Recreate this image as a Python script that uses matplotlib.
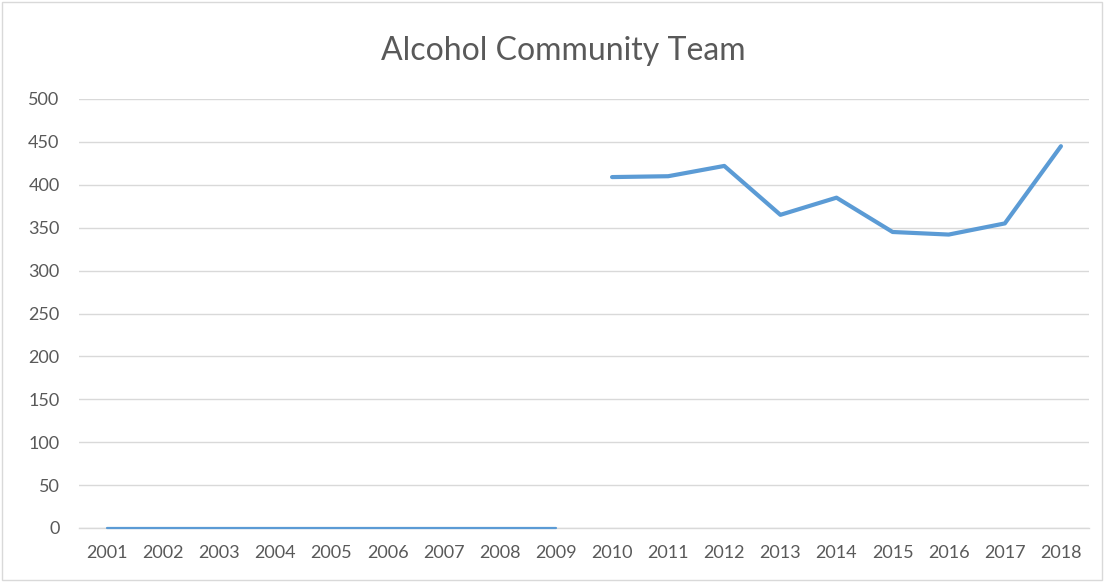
import matplotlib
matplotlib.use('Agg')
import matplotlib.pyplot as plt
import numpy as np

years = list(range(2001, 2019))
early_years = list(range(2001, 2010))
early_vals = [0, 0, 0, 0, 0, 0, 0, 0, 0]
late_years = list(range(2010, 2019))
late_vals = [409, 410, 422, 365, 385, 345, 342, 355, 445]
yticks = [0, 50, 100, 150, 200, 250, 300, 350, 400, 450, 500]

C_LINE = '#5b9bd5'
C_GRID = '#d9d9d9'
C_TEXT = '#595959'

plt.rcParams['font.family'] = ['Lato', 'DejaVu Sans']

fig = plt.figure(figsize=(11.04, 5.82), dpi=100)
ax = fig.add_axes([79/1104, 54/582, 1010/1104, 429/582])

pos = {y: i for i, y in enumerate(years)}
ax.plot([pos[y] for y in early_years], early_vals, color=C_LINE, linewidth=1.6,
        solid_capstyle='round', zorder=3, clip_on=False)
ax.plot([pos[y] for y in late_years], late_vals, color=C_LINE, linewidth=3.0,
        solid_capstyle='round', solid_joinstyle='round', zorder=3)

ax.set_xlim(-0.5, len(years) - 0.5)
ax.set_ylim(0, 500)
ax.set_yticks(yticks)
ax.set_xticks(range(len(years)))
ax.set_xticklabels([str(y) for y in years])

ax.grid(axis='y', color=C_GRID, linewidth=1.0, zorder=0)
for s in ['top', 'right', 'left']:
    ax.spines[s].set_visible(False)
ax.spines['bottom'].set_color(C_GRID)
ax.spines['bottom'].set_linewidth(1.0)
ax.tick_params(axis='both', length=0, colors=C_TEXT, labelsize=13)
ax.tick_params(axis='x', pad=12)
ax.tick_params(axis='y', pad=14)

fig.text(563/1104, 1 - 51/582, 'Alcohol Community Team', ha='center', va='center',
         fontsize=23, color=C_TEXT)

# light frame round the chart
fig.patches.append(plt.Rectangle((0.002, 0.003), 0.996, 0.994, transform=fig.transFigure,
                                 fill=False, edgecolor='#d9d9d9', linewidth=1.0))

fig.savefig('out.png', dpi=100)
